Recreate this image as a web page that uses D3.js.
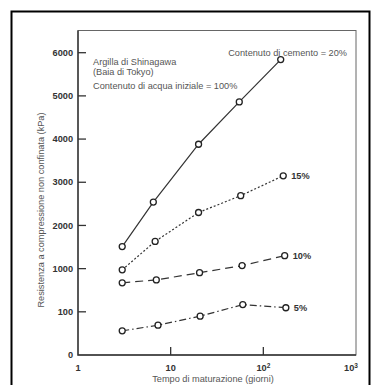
<!DOCTYPE html>
<html>
<head>
<meta charset="utf-8">
<script src="https://cdn.jsdelivr.net/npm/d3@7"></script>
<style>
  body { margin: 0; background: #fff; }
  svg { display: block; }
</style>
</head>
<body>
<svg id="chart" width="371" height="385"></svg>
<script>
// tick labels of the (non-uniform) strength axis, kPa
const yTicks = [0, 100, 1000, 2000, 3000, 4000, 5000, 6000];
const xTicks = [10, 100];
const xLabels = [[1, "1", ""], [10, "10", ""], [100, "10", "2"], [1000, "10", "3"]];

// curing time (days) and strength (kPa) per cement content
const days20 = [3, 6.5, 20, 55, 154];
const str20 = [1510, 2540, 3880, 4860, 5840];
const days15 = [3, 6.8, 20, 57, 164];
const str15 = [975, 1630, 2300, 2690, 3150];
const days10 = [3, 7, 20.5, 59, 170];
const str10 = [705, 765, 915, 1070, 1300];
const days5 = [3, 7.3, 20.8, 60, 175];
const str5 = [56, 69, 90, 250, 185];

const series = [
  { days: days20, vals: str20, dash: null, label: null },
  { days: days15, vals: str15, dash: "2,2", label: "15%" },
  { days: days10, vals: str10, dash: "8,5", label: "10%" },
  { days: days5, vals: str5, dash: "7,3,1.5,3", label: "5%" }
];

const svg = d3.select("#chart");
const font = "Liberation Sans, Arial, sans-serif";
const fs = "9.2px";

// outer frame
svg.append("rect").attr("x", 11.5).attr("y", 11.5).attr("width", 358).attr("height", 390)
  .attr("fill", "none").attr("stroke", "#000").attr("stroke-width", 2);

const L = 78, R = 356, T = 30.5, B = 355;
const step = (B - 52.7) / 7;

const x = d3.scaleLog().domain([1, 1000]).range([L, R]);
const y = d3.scaleLinear().domain([0, 100, 1000, 6000]).range([B, B - step, B - 2 * step, B - 7 * step]);

// plot box
svg.append("rect").attr("x", L).attr("y", T).attr("width", R - L).attr("height", B - T)
  .attr("fill", "none").attr("stroke", "#666").attr("stroke-width", 1);
svg.append("path").attr("d", `M${L},${T}V${B}H${R}`)
  .attr("fill", "none").attr("stroke", "#333").attr("stroke-width", 1.4);

// y ticks (inside)
const yAxis = svg.append("g");
yTicks.forEach(v => {
  if (v > 0) yAxis.append("line").attr("x1", L).attr("x2", L + 8).attr("y1", y(v)).attr("y2", y(v))
    .attr("stroke", "#333").attr("stroke-width", 1.3);
  yAxis.append("text").attr("x", L - 5).attr("y", y(v)).attr("dy", "0.35em")
    .attr("text-anchor", "end").style("font-family", font).style("font-size", fs)
    .style("font-weight", "bold").style("fill", "#333").text(v);
});

// x ticks (inside)
xTicks.forEach(v => {
  svg.append("line").attr("x1", x(v)).attr("x2", x(v)).attr("y1", B).attr("y2", B - 8)
    .attr("stroke", "#333").attr("stroke-width", 1.3);
});
xLabels.forEach(([v, base, sup]) => {
  const t = svg.append("text").attr("x", x(v) - (v === 1000 ? 5 : 0)).attr("y", B + 16)
    .attr("text-anchor", "middle").style("font-family", font).style("font-size", fs)
    .style("font-weight", "bold").style("fill", "#333").text(base);
  if (sup) t.append("tspan").attr("dy", -3).style("font-size", "6.5px").text(sup);
});

// axis titles
svg.append("text").attr("x", 213).attr("y", 382).attr("text-anchor", "middle")
  .style("font-family", font).style("font-size", fs).style("fill", "#555")
  .text("Tempo di maturazione (giorni)");
svg.append("text").attr("transform", "translate(44,210) rotate(-90)").attr("text-anchor", "middle")
  .style("font-family", font).style("font-size", fs).style("fill", "#555")
  .text("Resistenza a compressione non confinata (kPa)");

// annotations
const ann = [["Argilla di Shinagawa", 64.5], ["(Baia di Tokyo)", 75], ["Contenuto di acqua iniziale = 100%", 88.5]];
ann.forEach(([s, yy]) => svg.append("text").attr("x", 93).attr("y", yy)
  .style("font-family", font).style("font-size", fs).style("fill", "#555").text(s));
svg.append("text").attr("x", 347).attr("y", 55.5).attr("text-anchor", "end")
  .style("font-family", font).style("font-size", fs).style("fill", "#555")
  .text("Contenuto di cemento = 20%");

// series
const line = d3.line().x(d => x(d[0])).y(d => y(d[1]));
series.forEach(s => {
  const pts = s.days.map((d, i) => [d, s.vals[i]]);
  svg.append("path").attr("d", line(pts)).attr("fill", "none")
    .attr("stroke", "#333").attr("stroke-width", 1.2)
    .attr("stroke-dasharray", s.dash);
  svg.append("g").selectAll("circle").data(pts).join("circle")
    .attr("cx", d => x(d[0])).attr("cy", d => y(d[1])).attr("r", 3)
    .attr("fill", "#fff").attr("stroke", "#222").attr("stroke-width", 1.3);
  if (s.label) {
    const last = pts[pts.length - 1];
    svg.append("text").attr("x", x(last[0]) + 8).attr("y", y(last[1])).attr("dy", "0.35em")
      .style("font-family", font).style("font-size", fs).style("font-weight", "bold")
      .style("fill", "#333").text(s.label);
  }
});
</script>
</body>
</html>
